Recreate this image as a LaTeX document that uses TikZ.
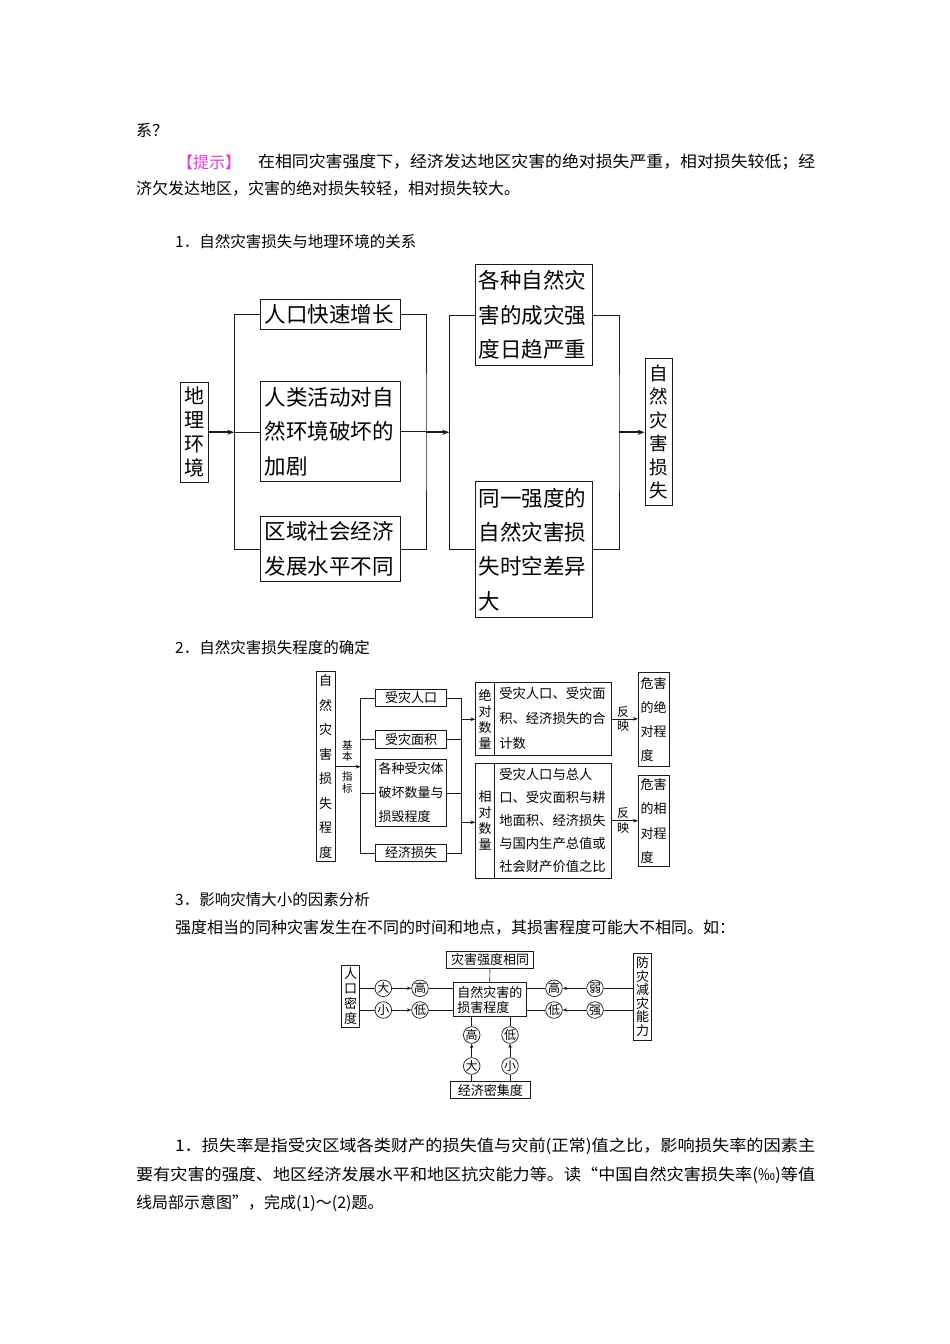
\documentclass[tikz,border=0pt]{standalone}
\usepackage{fontspec}
\setmainfont{Noto Sans CJK SC}
\usepackage{graphicx}
\usetikzlibrary{arrows.meta,calc,positioning}
\definecolor{ink}{HTML}{1A1A1A}
\definecolor{tishi}{HTML}{E23CDB}
\tikzset{
  txt/.style={anchor=west,inner sep=0pt,font=\fontsize{16}{20}\selectfont},
  bigbox/.style={draw=ink,line width=0.8pt,inner xsep=4pt,inner ysep=0pt,align=left,font=\fontsize{21.5}{34.3}\selectfont},
  bigcol/.style={draw=ink,line width=0.8pt,inner sep=0pt,align=center,font=\fontsize{20}{24}\selectfont},
  smbox/.style={draw=ink,line width=0.7pt,inner xsep=3pt,inner ysep=0pt,align=center,font=\fontsize{13}{24}\selectfont},
  ring/.style={circle,draw=ink,line width=0.7pt,inner sep=0pt,minimum size=16.6pt,font=\fontsize{12}{12}\selectfont},
  lab/.style={inner sep=0pt,align=center,font=\fontsize{10.5}{11.7}\selectfont},
  link/.style={draw=ink,line width=0.7pt},
  bigarr/.style={link,line width=1.6pt,-{Stealth[length=7pt,width=5pt]}},
  arr/.style={link,-{Stealth[length=5pt,width=3.6pt]}},
}
\begin{document}
\begin{tikzpicture}[x=1pt,y=-1pt]
  \fill[white] (0,0) rectangle (950,1344);
  \useasboundingbox (0,0) rectangle (950,1344);

  % page text
  \node[txt] (xi) at (136,130) {系？};
  \node[txt,text=tishi] (ts) at (177,162) {【提示】};
  \node[txt] (ts1) at (258,162) {\resizebox{557pt}{\height}{在相同灾害强度下，经济发达地区灾害的绝对损失严重，相对损失较低；经}};
  \node[txt] (ts2) at (136,189) {济欠发达地区，灾害的绝对损失较轻，相对损失较大。};
  \node[txt,font=\fontsize{15.5}{18}\selectfont] (h1) at (175,242) {1．自然灾害损失与地理环境的关系};
  \node[txt,font=\fontsize{15.5}{18}\selectfont] (h2) at (175,648) {2．自然灾害损失程度的确定};
  \node[txt,font=\fontsize{15.5}{18}\selectfont] (h3) at (175,900) {3．影响灾情大小的因素分析};
  \node[txt] (p3) at (175,928) {强度相当的同种灾害发生在不同的时间和地点，其损害程度可能大不相同。如：};
  \node[txt] (q1) at (175,1146) {\resizebox{640pt}{\height}{1．损失率是指受灾区域各类财产的损失值与灾前(正常)值之比，影响损失率的因素主}};
  \node[txt] (q2) at (136,1175) {\resizebox{679pt}{\height}{要有灾害的强度、地区经济发展水平和地区抗灾能力等。读“中国自然灾害损失率(‰)等值}};
  \node[txt] (q3) at (136,1203) {线局部示意图”，完成(1)～(2)题。};

  % diagram 1
  \node[bigcol,minimum width=27.5pt,minimum height=99.5pt] (dili) at (194.25,432.25) {地\\理\\环\\境};
  \node[bigbox,text width=131.3pt,minimum height=30pt] (rkzz) at (330.35,314.3) {人口快速增长};
  \node[bigbox,text width=131.3pt,minimum height=100pt] (rlhd) at (330.35,431.7) {人类活动对自\\然环境破坏的\\加剧};
  \node[bigbox,text width=131.3pt,minimum height=65.7pt] (qyfz) at (330.35,548.85) {区域社会经济\\发展水平不同};
  \node[bigbox,inner xsep=3.5pt,text width=110.7pt,minimum height=101.4pt] (cczd) at (533.85,315) {各种自然灾\\害的成灾强\\度日趋严重};
  \node[bigbox,inner xsep=3.5pt,text width=110.7pt,minimum height=135.6pt] (sksy) at (533.85,549.5) {同一强度的\\自然灾害损\\失时空差异\\大};
  \node[bigcol,minimum width=27.3pt,minimum height=147.4pt,font=\fontsize{18.5}{23.4}\selectfont] (zrss) at (658.65,432) {自\\然\\灾\\害\\损\\失};

  \coordinate (b1) at (234.3,432.25);
  \coordinate (b2) at (426,432.25);
  \coordinate (b3) at (449.3,432.25);
  \coordinate (b4) at (619,432.25);
  \draw[link] (rkzz.west) -| (b1) |- (qyfz.west);
  \draw[link] (b1) -- (b1 -| rlhd.west);
  \draw[bigarr] (dili.east) -- (b1);
  \draw[link] (rkzz.east) -| (b2) |- (qyfz.east);
  \draw[link] (rlhd.east) -- (rlhd.east -| b2);
  \draw[bigarr] (b2) -- (b3);
  \draw[link] (cczd.west) -| (b3) |- (sksy.west);
  \draw[link] (cczd.east) -| (b4) |- (sksy.east);
  \draw[bigarr] (b4) -- (b4 -| zrss.west);

  % diagram 2
  \node[smbox,inner xsep=0pt,minimum width=19pt,minimum height=190pt,font=\fontsize{13}{24.5}\selectfont] (ssd) at (325.5,766.7) {自\\然\\灾\\害\\损\\失\\程\\度};
  \coordinate (c1) at (360.7,766.7);
  \draw[arr] (ssd.east) -- (c1);
  \node[lab] (jb) at (347.3,751) {基\\本};
  \node[lab] (zb) at (347.3,782.5) {指\\标};
  \node[smbox,minimum width=71pt,minimum height=17.4pt] (szrk) at (411.2,698) {受灾人口};
  \node[smbox,minimum width=71pt,minimum height=17.6pt] (szmj) at (411.2,739.5) {受灾面积};
  \node[smbox,align=left,text width=65pt,minimum height=67.4pt] (szt) at (411.2,793) {各种受灾体\\破坏数量与\\损毁程度};
  \node[smbox,minimum width=71pt,minimum height=17.4pt] (jjss) at (411.2,853) {经济损失};
  \draw[link] (szrk.west) -| (c1) |- (jjss.west);
  \draw[link] (szmj.west) -| (c1);
  \draw[link] (szt.west) -| (c1);

  \coordinate (c2) at (461.7,719.3);
  \coordinate (c3) at (461.7,822.3);
  \draw[link] (szrk.east) -| (c2) |- (szmj.east);
  \draw[link] (szt.east) -| (c3) |- (jjss.east);
  \draw[link] (c2) -- (c3);

  \node[smbox,inner xsep=0pt,minimum width=18.6pt,minimum height=72.3pt,font=\fontsize{13}{16}\selectfont] (jdl) at (485,718.85) {绝\\对\\数\\量};
  \node[smbox,align=left,inner xsep=5pt,text width=107.4pt,minimum height=72.3pt,font=\fontsize{13.3}{25}\selectfont] (jdt) at (553,718.85) {受灾人口、受灾面\\积、经济损失的合\\计数};
  \node[smbox,inner xsep=0pt,minimum width=18.6pt,minimum height=115pt,font=\fontsize{13}{16}\selectfont] (xdl) at (485,820.8) {相\\对\\数\\量};
  \node[smbox,align=left,inner xsep=5pt,text width=107.4pt,minimum height=115pt,font=\fontsize{13.3}{23}\selectfont] (xdt) at (553,820.8) {受灾人口与总人\\口、受灾面积与耕\\地面积、经济损失\\与国内生产总值或\\社会财产价值之比};
  \draw[arr] (c2) -- (c2 -| jdl.west);
  \draw[arr] (c3) -- (c3 -| xdl.west);

  \node[smbox,align=left,inner xsep=2.35pt,text width=26pt,minimum height=94pt] (whjd) at (653.65,719.7) {危害\\的绝\\对程\\度};
  \node[smbox,align=left,inner xsep=2.35pt,text width=26pt,minimum height=91.7pt,font=\fontsize{13}{24.4}\selectfont] (whxd) at (653.65,820.85) {危害\\的相\\对程\\度};
  \draw[arr] (jdt.east) -- (jdt.east -| whjd.west)
    node[lab,midway,above=1.5pt,xshift=-2pt,font=\fontsize{12}{12}\selectfont] (fy1) {反}
    node[lab,midway,below=1pt,xshift=-2pt,font=\fontsize{12}{12}\selectfont] (ying1) {映};
  \draw[arr] (xdt.east) -- (xdt.east -| whxd.west)
    node[lab,midway,above=1.5pt,xshift=-2pt,font=\fontsize{12}{12}\selectfont] (fy2) {反}
    node[lab,midway,below=1pt,xshift=-2pt,font=\fontsize{12}{12}\selectfont] (ying2) {映};

  % diagram 3
  \node[smbox,inner xsep=0pt,minimum width=17.6pt,minimum height=62.3pt,font=\fontsize{13}{15}\selectfont] (rkmd) at (350.5,996.15) {人\\口\\密\\度};
  \node[ring] (da1) at (383.3,988.3) {大};
  \node[ring] (xiao1) at (383.3,1010) {小};
  \node[ring] (gao1) at (420,988.3) {高};
  \node[ring] (di1) at (420,1010) {低};
  \node[smbox,align=left,inner xsep=4pt,text width=64.7pt,minimum height=34pt,font=\fontsize{13}{15}\selectfont] (shcd) at (489.65,999.7) {自然灾害的\\损害程度};
  \node[smbox,minimum width=86.6pt,minimum height=16.6pt] (qdxt) at (490,960) {灾害强度相同};
  \node[ring] (gao2) at (554,988.3) {高};
  \node[ring] (di2) at (554,1010) {低};
  \node[ring] (ruo) at (595,988.3) {弱};
  \node[ring] (qiang) at (595,1010) {强};
  \node[smbox,inner xsep=0pt,minimum width=18.4pt,minimum height=86.7pt,font=\fontsize{13}{13.5}\selectfont] (fznl) at (642.5,996.65) {防\\灾\\减\\灾\\能\\力};
  \node[ring] (gao3) at (471.7,1035) {高};
  \node[ring] (di3) at (510,1035) {低};
  \node[ring] (da3) at (471.7,1066) {大};
  \node[ring] (xiao3) at (510,1066) {小};
  \node[smbox,minimum width=79.3pt,minimum height=16.6pt] (jjmj) at (490.35,1090) {经济密集度};

  \tikzset{arr/.append style={-{Stealth[length=4.5pt,width=3.4pt]}}}
  \foreach \a/\b in {da1/gao1,xiao1/di1} {
    \draw[link] (\a) -- (\a -| rkmd.east);
    \draw[arr] (\a) -- (\b);
    \draw[link] (\b) -- (\b -| shcd.west);
  }
  \foreach \a/\b in {ruo/gao2,qiang/di2} {
    \draw[link] (\a) -- (\a -| fznl.west);
    \draw[arr] (\a) -- (\b);
    \draw[link] (\b) -- (\b -| shcd.east);
  }
  \foreach \a/\b in {da3/gao3,xiao3/di3} {
    \draw[link] (\a) -- (\a |- jjmj.north);
    \draw[arr] (\a) -- (\b);
    \draw[link] (\b) -- (\b |- shcd.south);
  }
  \draw[link] (qdxt) -- (shcd);
\end{tikzpicture}
\end{document}
